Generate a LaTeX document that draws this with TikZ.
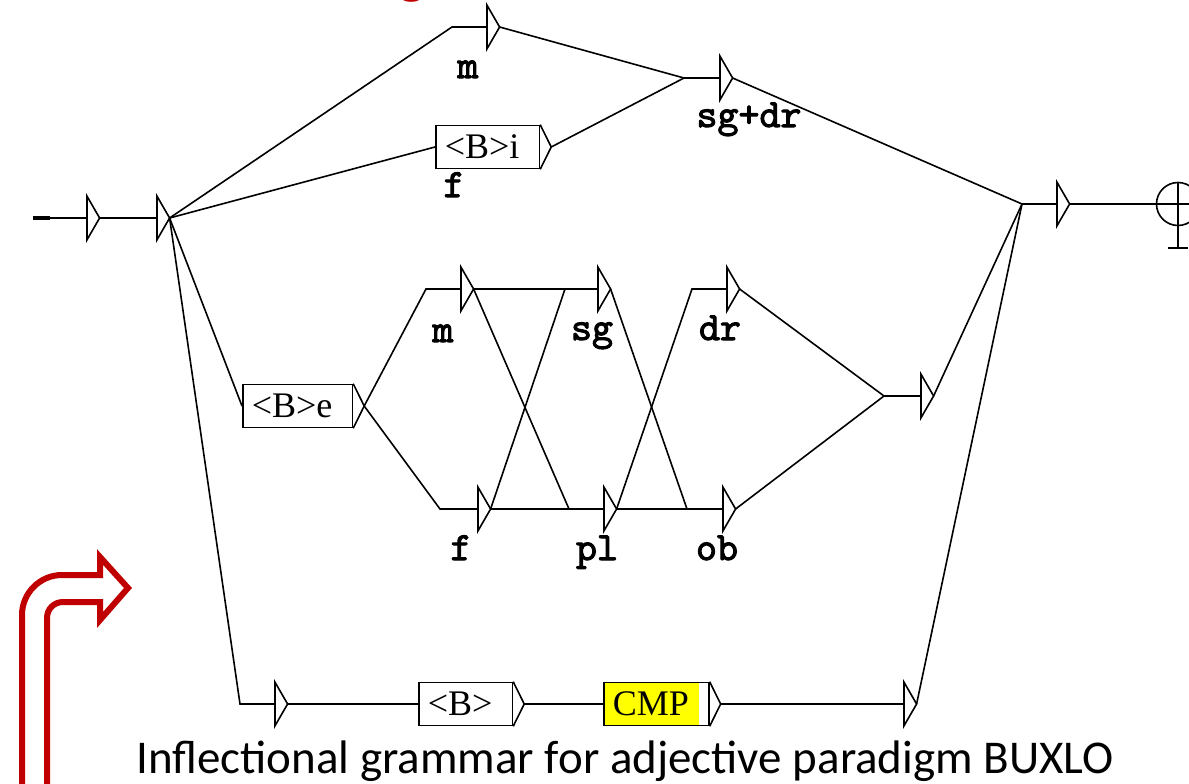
\documentclass[tikz,border=0pt]{standalone}
\usepackage{fontspec}
\setmainfont{Liberation Serif}
\newfontfamily\capfont{Carlito}
\newfontfamily\lblfont{lmmono10-regular.otf}[FakeBold=2.5]
\definecolor{arrowred}{HTML}{C00000}
\definecolor{boxyellow}{HTML}{FFFF00}
\begin{document}
\begin{tikzpicture}[x=1pt,y=-1pt, line width=1.6pt, line join=miter,
  tri/.style={inner sep=0pt, minimum width=11pt, minimum height=42pt, anchor=west},
  box/.style={draw, anchor=west, inner xsep=9pt, inner ysep=0pt, minimum height=43pt,
              font=\fontsize{36}{40}\selectfont},
  lbl/.style={anchor=base, font=\lblfont\fontsize{40}{44}\selectfont},
  redarrow/.style={draw=arrowred, line width=6pt, line join=miter}]
\useasboundingbox (0,0) rectangle (1189,784);

% title fragment
\node[font=\capfont\bfseries\fontsize{58}{60}\selectfont, text=arrowred, anchor=base, inner sep=0pt] (ttl) at (412,-7) {g};

% empty-transition triangles
\node[tri] (t1) at (87,218) {};
\node[tri] (t2) at (157,218) {};
\node[tri] (tm) at (487,27) {};
\node[tri] (tsd) at (720,78) {};
\node[tri] (tm2) at (461,289) {};
\node[tri] (tsg) at (598,289) {};
\node[tri] (tdr) at (727,289) {};
\node[tri] (tf) at (478,509) {};
\node[tri] (tpl) at (604,509) {};
\node[tri] (tob) at (723,509) {};
\node[tri] (tj) at (921,396) {};
\node[tri] (tfin) at (1057,204) {};
\node[tri] (tb) at (275,704) {};
\node[tri] (tend) at (904,704) {};
\foreach \n in {t1,t2,tm,tsd,tm2,tsg,tdr,tf,tpl,tob,tj,tfin,tb,tend}
  \draw (\n.north west) -- (\n.south west) -- (\n.east) -- cycle;

% boxes
\node[box] (bi) at (435,147) {<B>i\hspace*{11pt}};
\node[box] (be) at (242,406) {<B>e\hspace*{11pt}};
\node[box] (bB) at (418,704) {<B>\hspace*{11pt}};
\node[box, path picture={\fill[boxyellow] (path picture bounding box.north west) rectangle ([xshift=-10pt]path picture bounding box.south east);}] (bC) at (603,704) {CMP\hspace*{11pt}};
\foreach \b in {bi,be,bB,bC}{
  \coordinate (\b-o) at ([xshift=11pt]\b.east);
  \draw (\b.north east) -- (\b-o) -- (\b.south east);
}

% final state
\node[circle, draw, minimum size=43pt, inner sep=0pt] (fin) at (1178,204) {};
\coordinate (finbot) at (1178,248);
\draw (fin.north) -- (finbot);
\draw ([xshift=-10pt]finbot) -- ([xshift=10pt]finbot);

% labels
\node[lbl] (lm) at (468,78) {m};
\node[lbl] (lsd) at (749,127) {sg+dr};
\node[lbl] (lf1) at (454,197) {f};
\node[lbl] (lm2) at (443,342) {m};
\node[lbl] (lsg) at (592,340) {sg};
\node[lbl] (ldr) at (720,340) {dr};
\node[lbl] (lf2) at (461,560) {f};
\node[lbl] (lpl) at (597,560) {pl};
\node[lbl] (lob) at (717,560) {ob};

% junction points
\coordinate (s0) at (33,218);
\coordinate (s1) at (50,218);
\coordinate (j1) at (452,27);
\coordinate (j2) at (684,78);
\coordinate (j3) at (426,289);
\coordinate (j4) at (440,509);
\coordinate (j5) at (565,289);
\coordinate (j6) at (569,509);
\coordinate (j7) at (692,289);
\coordinate (j8) at (687,509);
\coordinate (j9) at (884,396);
\coordinate (j10) at (1022,204);
\coordinate (j11) at (240,704);

% connectors
\draw[line width=4pt, line cap=butt] (s0) -- (s1);
\draw (s1) -- (t1.west);
\draw (t1.east) -- (t2.west);
\draw (t2.east) -- (j1) -- (tm.west);
\draw (t2.east) -- (bi.west);
\draw (t2.east) -- (be.west);
\draw (t2.east) -- (j11) -- (tb.west);
\draw (tm.east) -- (j2);
\draw (bi-o) -- (j2);
\draw (j2) -- (tsd.west);
\draw (tsd.east) -- (j10);
\draw (be-o) -- (j3) -- (tm2.west);
\draw (be-o) -- (j4) -- (tf.west);
\draw (tm2.east) -- (tsg.west);
\draw (tm2.east) -- (j6);
\draw (tf.east) -- (tpl.west);
\draw (tf.east) -- (j5);
\draw (tsg.east) -- (j8);
\draw (tpl.east) -- (tob.west);
\draw (tpl.east) -- (j7) -- (tdr.west);
\draw (tdr.east) -- (j9);
\draw (tob.east) -- (j9);
\draw (j9) -- (tj.west);
\draw (tj.east) -- (j10);
\draw (tb.east) -- (bB.west);
\draw (bB-o) -- (bC.west);
\draw (bC-o) -- (tend.west);
\draw (tend.east) -- (j10);
\draw (j10) -- (tfin.west);
\draw (tfin.east) -- (fin.east);

% caption
\node[font=\capfont\fontsize{47}{50}\selectfont, anchor=base, inner sep=0pt] (cap) at (625,773) {Inflectional grammar for adjective paradigm BUXLO};

% red bent arrow
\draw[redarrow] (22,800) -- (22,615) .. controls (22,593) and (40,575) .. (62,575) -- (100,575) -- (100,557) -- (128,588) -- (100,620) -- (100,602) -- (63,602) .. controls (54,602) and (47,609) .. (47,618) -- (47,800);
\end{tikzpicture}
\end{document}
